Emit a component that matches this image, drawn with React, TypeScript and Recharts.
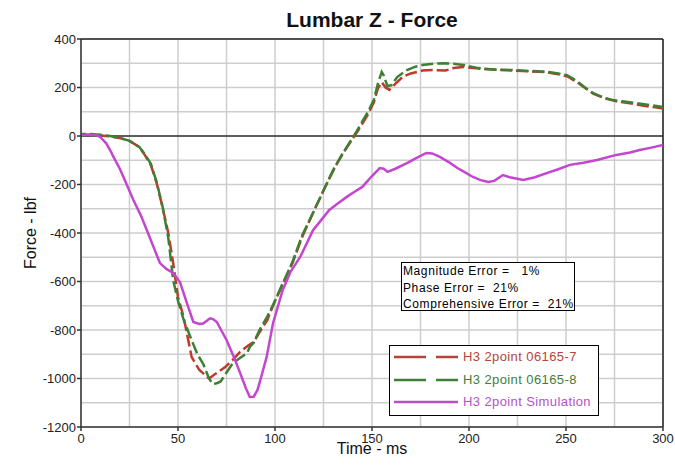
import React from "react";
import { LineChart, Line, XAxis, YAxis, CartesianGrid, ReferenceLine } from "recharts";

// axis ticks (grid every 25 ms / 100 lbf, labels every 50 ms / 200 lbf)
const xTicks = [0, 25, 50, 75, 100, 125, 150, 175, 200, 225, 250, 275, 300];
const yTicks = [-1200, -1100, -1000, -900, -800, -700, -600, -500, -400, -300, -200, -100, 0, 100, 200, 300, 400];
const xLabels = [0, 50, 100, 150, 200, 250, 300];
const yLabels = [-1200, -1000, -800, -600, -400, -200, 0, 200, 400];

// H3 2point 06165-7
const time7 = [0, 5, 10, 15, 20, 25, 30, 33, 36, 39, 42, 45, 47.5, 50, 53, 57, 61, 66, 70, 74, 78, 82, 86, 89, 92, 96, 100, 103, 109, 114, 120, 125, 128, 132, 136, 141, 145, 148, 151, 153, 155, 157, 159, 162, 166, 170, 176, 182, 188, 192, 197, 205, 215, 223, 232, 240, 246, 251, 257, 264, 270, 276, 283, 290, 296, 300];
const force7 = [5, 5, 2, -2, -8, -20, -45, -80, -120, -194, -293, -400, -524, -664, -750, -911, -965, -1000, -977, -955, -925, -890, -865, -850, -810, -759, -680, -630, -524, -416, -310, -225, -175, -113, -60, 0, 50, 90, 140, 195, 222, 200, 190, 215, 245, 258, 270, 272, 270, 280, 285, 278, 273, 270, 266, 263, 255, 245, 215, 175, 155, 143, 135, 125, 118, 113];

// H3 2point 06165-8
const time8 = [0, 5, 10, 15, 20, 25, 30, 33, 36, 39, 42, 45, 47.5, 50, 53, 57, 60, 63, 66, 68, 70, 72, 75, 78, 82, 85.6, 87, 89, 92, 96, 100, 103, 109, 114, 120, 125, 130, 135, 141, 145, 148, 151, 153, 155, 156, 158, 160, 163, 168, 172, 176, 182, 187, 192, 197, 205, 215, 223, 232, 240, 246, 250.5, 254, 257, 260, 264, 269, 274, 280, 286, 293, 300];
const force8 = [8, 8, 5, 0, -8, -20, -45, -75, -115, -190, -290, -420, -594, -680, -760, -841, -900, -940, -1000, -1023, -1020, -1012, -975, -940, -915, -895, -870, -853, -800, -745, -680, -625, -520, -410, -310, -225, -140, -70, 5, 60, 100, 150, 215, 264, 250, 205, 210, 243, 272, 285, 293, 298, 300, 298, 293, 280, 273, 272, 268, 265, 258, 251, 235, 218, 198, 177, 160, 148, 142, 136, 128, 120];

// H3 2point Simulation
const timeSim = [0, 5, 8, 10, 13, 15, 17, 20, 23, 27, 31, 34, 37, 40.7, 44, 47.5, 51, 54.6, 57.9, 61, 63, 66.5, 68, 70, 75, 79, 82, 85, 87, 89, 91, 93, 95.7, 99, 104, 108, 113, 119.6, 124, 128, 132, 137, 141, 145, 150, 154, 156, 158, 162, 168, 173, 178, 181, 185, 190, 194, 198, 202, 206, 210, 213, 217.5, 221, 228, 234, 240, 246, 252, 259, 266, 276, 283, 288, 294, 300];
const forceSim = [5, 5, 3, -5, -30, -58, -90, -135, -190, -264, -330, -390, -450, -524, -548, -565, -602, -689, -767, -775, -773, -752, -755, -767, -841, -915, -977, -1040, -1076, -1075, -1047, -990, -911, -771, -635, -560, -499, -388, -345, -305, -280, -251, -230, -210, -165, -132, -135, -148, -135, -112, -90, -70, -72, -86, -110, -132, -150, -169, -182, -190, -185, -161, -170, -181, -170, -153, -137, -119, -110, -99, -78, -68, -58, -48, -37];

const RED = "#c0392b";
const GREEN = "#3d8035";
const MAGENTA = "#c446d0";

const zip = (ts: number[], vs: number[]) => ts.map((t, i) => ({ t, v: vs[i] }));

const FONT = "'Liberation Sans', Arial, sans-serif";

const XTick = (props: any) => {
  const { x, y, payload } = props;
  if (!xLabels.includes(payload.value)) return <g />;
  return (
    <g>
      <line x1={x} y1={y} x2={x} y2={y + 4} stroke="#333" strokeWidth={1.5} />
      <text x={x} y={y + 7} dy="0.71em" textAnchor="middle" fontSize={13} fontFamily={FONT} fill="#222">
        {payload.value}
      </text>
    </g>
  );
};

const YTick = (props: any) => {
  const { x, y, payload } = props;
  if (!yLabels.includes(payload.value)) return <g />;
  return (
    <g>
      <line x1={x - 4} y1={y} x2={x} y2={y} stroke="#333" strokeWidth={1.5} />
      <text x={x - 5} y={y} dy="0.35em" textAnchor="end" fontSize={13} fontFamily={FONT} fill="#222">
        {payload.value}
      </text>
    </g>
  );
};

const legendItems = [
  { name: "H3 2point 06165-7", color: "#b5453a", dashed: true, y: 357 },
  { name: "H3 2point 06165-8", color: "#3f7d3a", dashed: true, y: 379.5 },
  { name: "H3 2point Simulation", color: "#b552c2", dashed: false, y: 402 },
];

export default function App() {
  return (
    <div style={{ position: "absolute", left: 0, top: 0, width: 675, height: 465, background: "#fff", fontFamily: FONT }}>
      <LineChart width={675} height={465} margin={{ top: 39, right: 12, left: 31, bottom: 8 }}>
        <CartesianGrid stroke="#cdcdcd" strokeWidth={1.5} />
        <XAxis
          type="number"
          dataKey="t"
          domain={[0, 300]}
          ticks={xTicks}
          allowDataOverflow
          height={30}
          tickSize={0}
          tickMargin={0}
          tickLine={false}
          tick={<XTick />}
          axisLine={{ stroke: "#333", strokeWidth: 1.5 }}
        />
        <YAxis
          type="number"
          domain={[-1200, 400]}
          ticks={yTicks}
          allowDataOverflow
          width={50}
          tickSize={0}
          tickMargin={0}
          tickLine={false}
          tick={<YTick />}
          axisLine={{ stroke: "#333", strokeWidth: 1.5 }}
        />
        <ReferenceLine y={0} stroke="#333" strokeWidth={1.5} />
        <ReferenceLine y={400} stroke="#222" strokeWidth={1.5} />
        <ReferenceLine x={300} stroke="#222" strokeWidth={1.5} />
        <Line
          data={zip(time7, force7)}
          dataKey="v"
          type="linear"
          stroke={RED}
          strokeWidth={2.5}
          strokeDasharray="12 4"
          dot={false}
          isAnimationActive={false}
        />
        <Line
          data={zip(time8, force8)}
          dataKey="v"
          type="linear"
          stroke={GREEN}
          strokeWidth={2.5}
          strokeDasharray="12 4"
          strokeDashoffset={7}
          dot={false}
          isAnimationActive={false}
        />
        <Line
          data={zip(timeSim, forceSim)}
          dataKey="v"
          type="linear"
          stroke={MAGENTA}
          strokeWidth={2.5}
          dot={false}
          isAnimationActive={false}
        />
      </LineChart>

      <div style={{ position: "absolute", left: 272, top: 9, width: 200, textAlign: "center", fontSize: 21, fontWeight: "bold", lineHeight: "21px", color: "#111" }}>
        Lumbar Z - Force
      </div>
      <div style={{ position: "absolute", left: 272, top: 441, width: 200, textAlign: "center", fontSize: 16, lineHeight: "16px", color: "#111" }}>
        Time - ms
      </div>
      <div style={{ position: "absolute", left: -29, top: 224, width: 120, height: 18, textAlign: "center", fontSize: 16, lineHeight: "18px", color: "#111", transform: "rotate(-90deg)" }}>
        Force - lbf
      </div>

      <div style={{ position: "absolute", left: 401, top: 262, width: 174, height: 49, boxSizing: "border-box", border: "1.5px solid #000", background: "#fff", fontSize: 12, letterSpacing: 0.6, lineHeight: "16.5px", whiteSpace: "pre", paddingLeft: 1, color: "#000" }}>
        {"Magnitude Error =   1%\nPhase Error =  21%\nComprehensive Error =  21%"}
      </div>

      <div style={{ position: "absolute", left: 389, top: 345, width: 210, height: 71, boxSizing: "border-box", border: "1.5px solid #000", background: "#fff" }} />
      {legendItems.map((it) => (
        <React.Fragment key={it.name}>
          <svg style={{ position: "absolute", left: 394, top: it.y - 2 }} width={64} height={4}>
            {it.dashed ? (
              <>
                <line x1={0} y1={2} x2={32} y2={2} stroke={it.color} strokeWidth={2.5} />
                <line x1={42} y1={2} x2={64} y2={2} stroke={it.color} strokeWidth={2.5} />
              </>
            ) : (
              <line x1={0} y1={2} x2={64} y2={2} stroke={it.color} strokeWidth={2.5} />
            )}
          </svg>
          <div style={{ position: "absolute", left: 463, top: it.y - 8, fontSize: 13, letterSpacing: 0.4, lineHeight: "16px", whiteSpace: "nowrap", color: it.color }}>
            {it.name}
          </div>
        </React.Fragment>
      ))}
    </div>
  );
}
